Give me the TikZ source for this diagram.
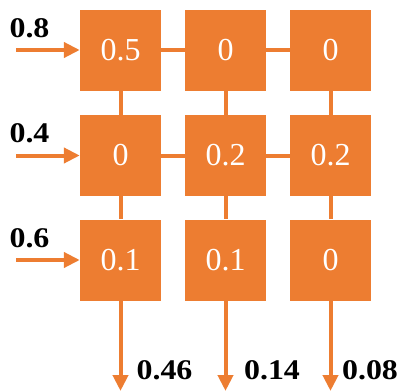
\documentclass[tikz,border=0pt]{standalone}
\usepackage{fontspec}
\setmainfont{Liberation Serif}
\usetikzlibrary{arrows.meta}
\definecolor{cellorange}{HTML}{ED7D31}
\begin{document}
\begin{tikzpicture}[x=1pt,y=-1pt,
  cell/.style={fill=cellorange,draw=none,minimum width=81pt,minimum height=81pt,
    inner sep=0pt,text=white,font=\fontsize{32}{32}\selectfont},
  link/.style={draw=cellorange,line width=4pt},
  flow/.style={draw=cellorange,line width=4pt,-{Triangle[length=16pt,width=15pt]}},
  val/.style={font=\fontsize{28.5}{28.5}\selectfont\bfseries,inner sep=0pt,xscale=1.12}]
\useasboundingbox (0,0) rectangle (405,391);
% grid of cells
\node[cell] (c11) at (120.5,50) {0.5};
\node[cell] (c12) at (225.5,50) {0};
\node[cell] (c13) at (330.5,50) {0};
\node[cell] (c21) at (120.5,155.5) {0};
\node[cell] (c22) at (225.5,155.5) {0.2};
\node[cell] (c23) at (330.5,155.5) {0.2};
\node[cell] (c31) at (120.5,260) {0.1};
\node[cell] (c32) at (225.5,260) {0.1};
\node[cell] (c33) at (330.5,260) {0};
% links between neighbouring cells
\draw[link] (c11) -- (c12);
\draw[link] (c12) -- (c13);
\draw[link] (c21) -- (c22);
\draw[link] (c22) -- (c23);
\foreach \c in {1,2,3}{
  \draw[link] (c1\c) -- (c2\c);
  \draw[link] (c2\c) -- (c3\c);
}
% inputs
\coordinate (i1) at (16,50);
\coordinate (i2) at (16,155.5);
\coordinate (i3) at (16,260);
\draw[flow] (i1) -- (c11.west);
\draw[flow] (i2) -- (c21.west);
\draw[flow] (i3) -- (c31.west);
\node[val] (v1) at (29.5,28.5) {0.8};
\node[val] (v2) at (29.5,133) {0.4};
\node[val] (v3) at (29.5,238) {0.6};
% outputs
\coordinate (o1) at (120.5,391);
\coordinate (o2) at (225.5,391);
\coordinate (o3) at (330.5,391);
\draw[flow] (c31.south) -- (o1);
\draw[flow] (c32.south) -- (o2);
\draw[flow] (c33.south) -- (o3);
\node[val] (w1) at (164.5,370) {0.46};
\node[val] (w2) at (272,370) {0.14};
\node[val] (w3) at (370,370) {0.08};
\end{tikzpicture}
\end{document}
